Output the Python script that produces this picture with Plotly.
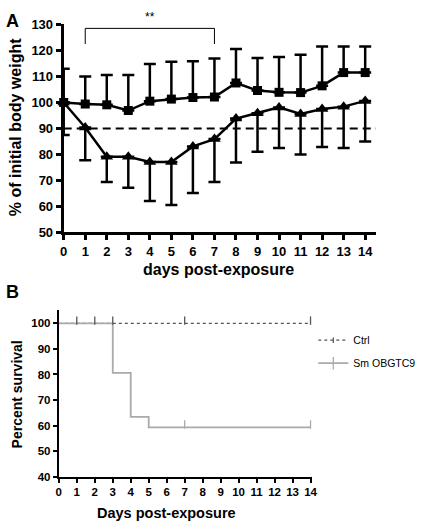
import plotly.graph_objects as go

# ---------- Panel A data ----------
days = list(range(0, 15))
ctrl_mean = [100, 99.4, 99.1, 96.9, 100.5, 101.3, 101.9, 102.1, 107.5, 104.6, 103.9, 103.8, 106.4, 111.5, 111.5]
ctrl_sd_up = [13.0, 10.6, 11.5, 13.7, 14.3, 14.4, 14.0, 14.8, 13.1, 12.5, 13.6, 14.6, 15.1, 10.0, 10.0]
sm_mean = [100, 90.4, 79.1, 79.1, 77.1, 77.1, 83.1, 85.9, 93.8, 95.9, 98.1, 95.6, 97.5, 98.4, 100.6]
sm_sd_down = [12.5, 12.6, 9.7, 11.9, 15.0, 16.5, 17.9, 16.5, 16.9, 14.9, 15.6, 15.6, 14.6, 15.9, 15.6]
threshold = 90
bracket_days = [1, 7]
bracket_levels = [122.5, 128.5]
a_yticks = list(range(50, 131, 10))

# ---------- Panel B data ----------
b_days = list(range(0, 15))
surv_ctrl_x = [0, 14]
surv_ctrl_y = [100, 100]
surv_sm_x = [0, 3, 4, 5, 14]
surv_sm_y = [100, 80.6, 63.4, 59.3, 59.3]
cens_ctrl_x = [1, 2, 3, 7, 14]
cens_ctrl_y = [100, 100, 100, 100, 100]
cens_sm_x = [7, 14]
cens_sm_y = [59.3, 59.3]
b_yticks = list(range(40, 101, 10))

FONT = "Arial, Liberation Sans, sans-serif"
W, H = 425, 530

def px_x(p):
    return p / W

def px_y(p):
    return 1 - p / H

fig = go.Figure()

# Panel A traces
fig.add_trace(go.Scatter(
    x=days, y=ctrl_mean, mode="lines+markers", xaxis="x", yaxis="y",
    line=dict(color="black", width=2.5),
    marker=dict(symbol="square", size=9, color="black"),
    error_y=dict(type="data", symmetric=False, array=ctrl_sd_up,
                 arrayminus=[0] * len(days), color="black", thickness=2.5, width=6),
    cliponaxis=False, showlegend=False))
fig.add_trace(go.Scatter(
    x=days, y=sm_mean, mode="lines+markers", xaxis="x", yaxis="y",
    line=dict(color="black", width=2.5),
    marker=dict(symbol="triangle-up", size=11, color="black"),
    error_y=dict(type="data", symmetric=False, array=[0] * len(days),
                 arrayminus=sm_sd_down, color="black", thickness=2.5, width=6),
    cliponaxis=False, showlegend=False))

# Panel B traces
ctrl_col = "#555555"
sm_col = "#aaaaaa"
fig.add_trace(go.Scatter(
    x=surv_ctrl_x, y=surv_ctrl_y, mode="lines", xaxis="x2", yaxis="y2",
    line=dict(color=ctrl_col, width=1.2, dash="dot"), showlegend=False, cliponaxis=False))
fig.add_trace(go.Scatter(
    x=surv_sm_x, y=surv_sm_y, mode="lines", xaxis="x2", yaxis="y2",
    line=dict(color=sm_col, width=1.8, shape="hv"), showlegend=False, cliponaxis=False))
tick_off = 1.1
fig.add_trace(go.Scatter(
    x=cens_sm_x, y=[v + tick_off for v in cens_sm_y], mode="markers", xaxis="x2", yaxis="y2",
    marker=dict(symbol="line-ns", size=6, line=dict(color=sm_col, width=1.3)),
    showlegend=False, cliponaxis=False))
fig.add_trace(go.Scatter(
    x=cens_ctrl_x, y=[v + tick_off for v in cens_ctrl_y], mode="markers", xaxis="x2", yaxis="y2",
    marker=dict(symbol="line-ns", size=6, line=dict(color=ctrl_col, width=1.3)),
    showlegend=False, cliponaxis=False))
# legend entries
fig.add_trace(go.Scatter(
    x=[None], y=[None], mode="lines+markers", name="Ctrl", xaxis="x2", yaxis="y2",
    line=dict(color=ctrl_col, width=1.2, dash="dot"),
    marker=dict(symbol="line-ns", size=4, line=dict(color=ctrl_col, width=1.2)),
    legendgroup="a"))
fig.add_trace(go.Scatter(
    x=[None], y=[None], mode="lines+markers", name="Sm OBGTC9", xaxis="x2", yaxis="y2",
    line=dict(color=sm_col, width=1.8),
    marker=dict(symbol="line-ns", size=9, line=dict(color=sm_col, width=1.3)),
    legendgroup="b"))

axA_common = dict(showline=True, linecolor="black", linewidth=3, ticks="outside",
                  tickwidth=2.5, ticklen=5, tickcolor="black", showgrid=False, zeroline=False,
                  tickfont=dict(family=FONT, size=13, color="black", weight="bold"))
axB_common = dict(showline=True, linecolor="black", linewidth=2, ticks="outside",
                  tickwidth=2, ticklen=4, tickcolor="black", showgrid=False, zeroline=False,
                  tickfont=dict(family=FONT, size=11.5, color="black", weight="bold"))

fig.update_layout(
    width=W, height=H, margin=dict(l=0, r=0, t=0, b=0),
    paper_bgcolor="white", plot_bgcolor="white",
    xaxis=dict(domain=[px_x(61), px_x(380)], range=[0, 14.5], tickvals=days,
               anchor="y", **axA_common),
    yaxis=dict(domain=[px_y(232), px_y(18)], range=[50, 130], tickvals=a_yticks,
               anchor="x", **axA_common),
    xaxis2=dict(domain=[px_x(56), px_x(315)], range=[0, 14.1], tickvals=b_days,
                anchor="y2", **axB_common),
    yaxis2=dict(domain=[px_y(483.3), px_y(311.7)], range=[40, 105.3], tickvals=b_yticks,
                anchor="x2", **axB_common),
    legend=dict(x=px_x(316), y=px_y(328), xanchor="left", yanchor="top",
                font=dict(family=FONT, size=10.5, color="black"), itemwidth=30,
                bgcolor="rgba(0,0,0,0)", tracegroupgap=4),
    shapes=[
        dict(type="line", xref="x", yref="y", x0=0, x1=14.5, y0=threshold, y1=threshold,
             line=dict(color="black", width=2, dash="8px,5px")),
        dict(type="path", xref="x", yref="y",
             path=f"M {bracket_days[0]},{bracket_levels[0]} L {bracket_days[0]},{bracket_levels[1]} "
                  f"L {bracket_days[1]},{bracket_levels[1]} L {bracket_days[1]},{bracket_levels[0]}",
             line=dict(color="black", width=1)),
    ],
    annotations=[
        dict(text="**", x=sum(bracket_days) / 2, y=129.5, xref="x", yref="y",
             yanchor="bottom", showarrow=False, font=dict(family=FONT, size=12, color="black")),
        dict(text="<b>A</b>", x=0.0, y=px_y(2), xref="paper", yref="paper",
             xanchor="left", yanchor="top", showarrow=False,
             font=dict(family=FONT, size=18, color="black")),
        dict(text="<b>B</b>", x=0.0, y=px_y(281), xref="paper", yref="paper",
             xanchor="left", yanchor="top", showarrow=False,
             font=dict(family=FONT, size=18, color="black")),
        dict(text="<b>days post-exposure</b>", x=px_x(219), y=px_y(270), xref="paper", yref="paper",
             xanchor="center", yanchor="middle", showarrow=False,
             font=dict(family=FONT, size=16, color="black")),
        dict(text="<b>% of initial body weight</b>", x=px_x(12), y=px_y(124), xref="paper", yref="paper",
             xanchor="center", yanchor="middle", textangle=-90, showarrow=False,
             font=dict(family=FONT, size=16, color="black")),
        dict(text="<b>Days post-exposure</b>", x=px_x(166), y=px_y(521), xref="paper", yref="paper",
             xanchor="center", yanchor="middle", showarrow=False,
             font=dict(family=FONT, size=14.5, color="black")),
        dict(text="<b>Percent survival</b>", x=px_x(13), y=px_y(399), xref="paper", yref="paper",
             xanchor="center", yanchor="middle", textangle=-90, showarrow=False,
             font=dict(family=FONT, size=14, color="black")),
    ],
)

fig.write_html("out.html", config={"displayModeBar": False},
               post_script="document.body.style.margin='0';document.body.style.padding='0';")
